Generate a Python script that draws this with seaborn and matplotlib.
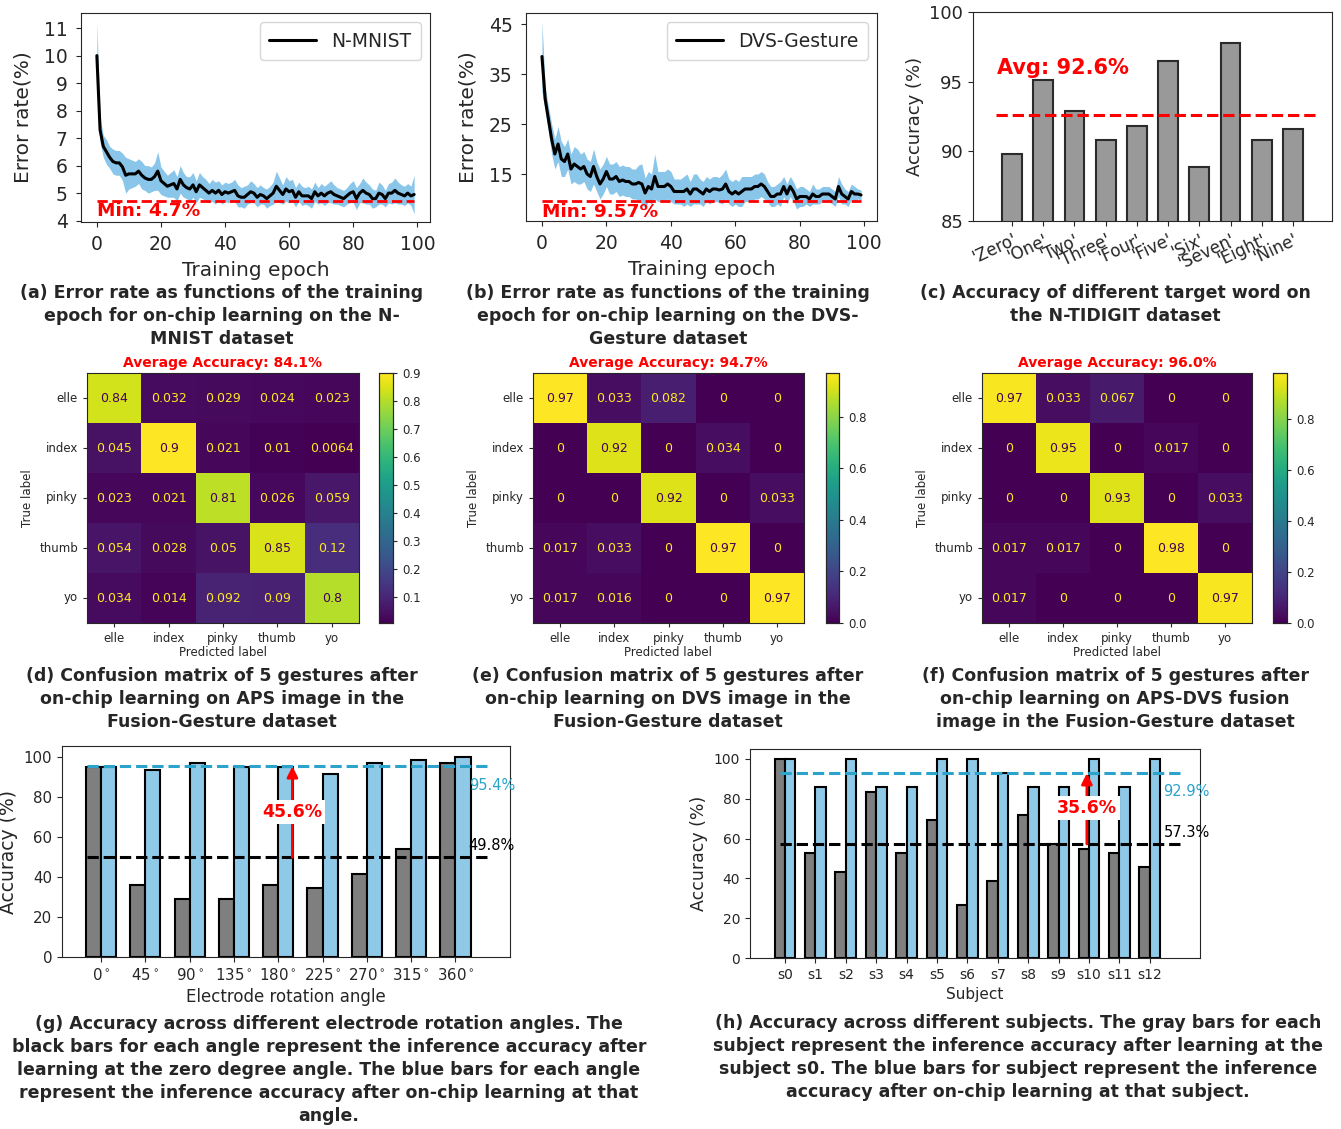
import numpy as np
import pandas as pd
import seaborn as sns
import matplotlib.pyplot as plt

# ---- data -------------------------------------------------------------
epochs = list(range(100))

nmnist_err = [10.0, 7.3, 6.7, 6.5, 6.3, 6.15, 6.1, 6.1, 5.95, 5.65,
              5.7, 5.7, 5.7, 5.8, 5.65, 5.55, 5.5, 5.5, 5.6, 5.8,
              5.45, 5.35, 5.25, 5.3, 5.35, 5.15, 5.5, 5.3, 5.2, 5.15,
              5.3, 5.05, 5.3, 5.2, 5.1, 5.0, 5.1, 5.0, 5.1, 4.95,
              5.05, 5.0, 5.05, 5.1, 4.9, 4.85, 4.85, 4.95, 5.05, 5.0,
              4.85, 4.95, 4.9, 4.8, 4.9, 5.0, 5.25, 5.1, 4.95, 5.15,
              5.05, 5.1, 4.85, 5.05, 4.9, 4.9, 4.9, 4.8, 5.05, 4.9,
              5.0, 4.9, 5.0, 5.05, 4.95, 4.9, 4.85, 4.8, 4.9, 5.0,
              5.05, 4.8, 5.0, 5.1, 5.0, 4.95, 4.8, 4.8, 5.0, 4.95,
              4.8, 5.0, 5.0, 5.1, 5.0, 4.95, 4.9, 5.0, 4.9, 4.95]
nmnist_spread = [1.2, 0.45, 0.4, 0.45, 0.4, 0.45, 0.45, 0.45, 0.5, 0.65,
                 0.55, 0.5, 0.45, 0.45, 0.5, 0.45, 0.5, 0.45, 0.5, 0.7,
                 0.5, 0.45, 0.4, 0.45, 0.5, 0.45, 0.5, 0.45, 0.4, 0.45,
                 0.45, 0.4, 0.45, 0.4, 0.4, 0.35, 0.4, 0.4, 0.35, 0.35,
                 0.35, 0.35, 0.35, 0.4, 0.4, 0.35, 0.4, 0.35, 0.4, 0.35,
                 0.35, 0.35, 0.3, 0.35, 0.35, 0.4, 0.55, 0.45, 0.35, 0.45,
                 0.4, 0.4, 0.35, 0.35, 0.35, 0.3, 0.35, 0.35, 0.35, 0.3,
                 0.35, 0.35, 0.35, 0.4, 0.35, 0.3, 0.3, 0.3, 0.3, 0.35,
                 0.4, 0.4, 0.35, 0.45, 0.4, 0.35, 0.35, 0.3, 0.4, 0.35,
                 0.3, 0.35, 0.4, 0.45, 0.4, 0.35, 0.35, 0.35, 0.35, 0.7]

dvs_err = [38.5, 30.0, 26.0, 22.0, 19.0, 21.0, 18.0, 17.5, 19.0, 16.0,
           17.0, 16.5, 16.0, 16.5, 15.0, 14.5, 16.5, 14.5, 13.0, 14.0,
           15.5, 14.0, 14.0, 14.5, 13.5, 13.8, 13.5, 13.5, 13.0, 13.0,
           13.3, 13.0, 11.2, 12.5, 12.0, 14.5, 12.5, 12.5, 12.5, 13.0,
           12.5, 11.5, 11.5, 11.5, 11.5, 12.0, 11.0, 12.0, 12.0, 11.5,
           11.0, 12.0, 11.5, 12.0, 12.0, 11.8, 12.0, 13.0, 11.5, 11.0,
           11.5, 11.0, 11.5, 12.0, 12.0, 12.0, 12.5, 12.5, 13.0, 12.5,
           11.5, 10.5, 10.5, 11.0, 11.0, 12.5, 11.0, 12.5, 11.5, 10.0,
           10.5, 10.5, 10.5, 10.0, 11.0, 10.5, 10.5, 11.0, 11.0, 11.0,
           10.5, 10.0, 12.5, 11.0, 10.5, 10.0, 11.5, 11.0, 11.0, 10.8]
dvs_spread = [7.0, 2.5, 2.5, 3.0, 3.0, 3.5, 3.5, 3.0, 3.0, 3.0,
              3.5, 3.5, 3.0, 3.0, 3.0, 3.0, 3.5, 3.0, 3.0, 3.0,
              3.0, 3.0, 3.0, 3.0, 3.0, 3.0, 3.0, 3.0, 3.0, 3.0,
              3.5, 4.0, 3.0, 3.0, 3.0, 4.5, 3.0, 3.0, 3.0, 3.0,
              3.0, 2.5, 2.5, 2.5, 3.0, 3.0, 2.5, 3.0, 3.0, 2.5,
              2.5, 2.5, 2.5, 2.5, 2.5, 2.5, 3.0, 3.0, 2.5, 2.5,
              2.5, 2.5, 3.0, 2.5, 2.5, 2.5, 2.5, 2.5, 2.5, 2.5,
              2.0, 2.0, 2.0, 2.0, 2.5, 2.0, 2.0, 2.0, 2.0, 2.0,
              2.0, 2.0, 1.5, 1.5, 2.0, 1.5, 1.5, 1.5, 1.5, 1.5,
              1.5, 1.5, 2.0, 2.0, 1.5, 1.5, 1.5, 1.5, 1.0, 1.0]

words = ["'Zero'", "'One'", "'Two'", "'Three'", "'Four'",
         "'Five'", "'Six'", "'Seven'", "'Eight'", "'Nine'"]
word_acc = [89.8, 95.1, 92.9, 90.8, 91.8, 96.5, 88.9, 97.8, 90.8, 91.6]

gestures = ["elle", "index", "pinky", "thumb", "yo"]
cm_aps = [[0.84, 0.032, 0.029, 0.024, 0.023],
          [0.045, 0.9, 0.021, 0.01, 0.0064],
          [0.023, 0.021, 0.81, 0.026, 0.059],
          [0.054, 0.028, 0.05, 0.85, 0.12],
          [0.034, 0.014, 0.092, 0.09, 0.8]]
cm_dvs = [[0.97, 0.033, 0.082, 0, 0],
          [0, 0.92, 0, 0.034, 0],
          [0, 0, 0.92, 0, 0.033],
          [0.017, 0.033, 0, 0.97, 0],
          [0.017, 0.016, 0, 0, 0.97]]
cm_fus = [[0.97, 0.033, 0.067, 0, 0],
          [0, 0.95, 0, 0.017, 0],
          [0, 0, 0.93, 0, 0.033],
          [0.017, 0.017, 0, 0.98, 0],
          [0.017, 0, 0, 0, 0.97]]

angles = [r"0$^\circ$", r"45$^\circ$", r"90$^\circ$", r"135$^\circ$", r"180$^\circ$",
          r"225$^\circ$", r"270$^\circ$", r"315$^\circ$", r"360$^\circ$"]
angle_base = [95, 36, 29, 29, 36, 34.5, 41.5, 54, 97]
angle_learn = [95, 93.5, 97, 95, 95, 91.5, 97, 98.5, 100]

subjects = ["s%d" % i for i in range(13)]
subj_base = [100, 53, 43, 83.5, 53, 69.5, 26.5, 38.5, 72, 57.5, 55, 53, 45.5]
subj_learn = [100, 86, 100, 86, 86, 100, 100, 93, 86, 86, 100, 86, 100]

# ---- figure -------------------------------------------------------------
sns.set_style("ticks")
plt.rcParams['font.family'] = ['DejaVu Sans']

W, H = 1341, 1129
fig = plt.figure(figsize=(W / 100, H / 100), dpi=100)


def box(l, t, r, b):
    return [l / W, 1 - b / H, (r - l) / W, (b - t) / H]


def caption(x, y, s):
    fig.text(x / W, 1 - y / H, s, ha="center", va="top", fontsize=12.5,
             fontweight="bold", linespacing=1.35, multialignment="center")


BAND = "#8ac6ea"


def curve_panel(ax, err, spread, name, minval, ylim, yticks, min_y):
    err = np.array(err)
    spread = np.array(spread)
    ax.fill_between(epochs, err - spread, err + spread, color=BAND, lw=0)
    sns.lineplot(x=epochs, y=err, color="black", lw=2.2, ax=ax, label=name)
    ax.hlines(minval, 0, 99, colors="red", linestyles="--", lw=2)
    ax.text(0, min_y, "Min: %s%%" % minval, color="red", fontsize=13.3,
            fontweight="bold", va="center", ha="left")
    ax.set_ylim(*ylim)
    ax.set_yticks(yticks)
    ax.set_xticks([0, 20, 40, 60, 80, 100])
    ax.tick_params(labelsize=13.5, pad=6)
    ax.set_xlabel("Training epoch", fontsize=14.5, labelpad=5)
    ax.set_ylabel("Error rate(%)", fontsize=14.5, labelpad=8)
    ax.legend(loc="upper right", fontsize=13.5, handlelength=2.5,
              borderpad=0.5, fancybox=True)


ax_a = fig.add_axes(box(81, 13, 430, 222))
curve_panel(ax_a, nmnist_err, nmnist_spread, "N-MNIST", 4.7,
            (3.95, 11.55), range(4, 12), 4.35)
ax_b = fig.add_axes(box(526, 13, 877, 221))
curve_panel(ax_b, dvs_err, dvs_spread, "DVS-Gesture", 9.57,
            (5.6, 47.2), [15, 25, 35, 45], 7.4)

# panel c
ax_c = fig.add_axes(box(973, 12, 1332, 221))
sns.barplot(x=words, y=word_acc, color="#999999", width=0.63,
            edgecolor="#2b2b2b", linewidth=1.5, saturation=1, ax=ax_c)
ax_c.hlines(92.6, -0.5, 9.7, colors="red", linestyles="--", lw=2.2)
ax_c.text(-0.48, 96.0, "Avg: 92.6%", color="red", fontsize=15,
          fontweight="bold", va="center", ha="left")
ax_c.set_ylim(85, 100)
ax_c.set_xlim(-1.25, 10.25)
ax_c.set_yticks([85, 90, 95, 100])
ax_c.set_ylabel("Accuracy (%)", fontsize=13)
ax_c.tick_params(axis="y", labelsize=13)
ax_c.tick_params(axis="x", labelsize=12)
for lab in ax_c.get_xticklabels():
    lab.set_rotation(25)
    lab.set_ha("right")
    lab.set_rotation_mode("anchor")

# confusion matrices
cmap = plt.get_cmap("viridis")


def cm_panel(axbox, cbbox, cm, title, cbticks):
    ax = fig.add_axes(box(*axbox))
    cax = fig.add_axes(box(*cbbox))
    arr = np.array(cm, dtype=float)
    sns.heatmap(arr, cmap="viridis", annot=True, fmt=".2g", ax=ax, cbar_ax=cax,
                xticklabels=gestures, yticklabels=gestures,
                annot_kws={"fontsize": 9}, vmin=arr.min(), vmax=arr.max())
    thresh = (arr.max() + arr.min()) / 2
    for t, v in zip(ax.texts, arr.flatten()):
        t.set_color(cmap(0.0) if v >= thresh else cmap(1.0))
    for s in ax.spines.values():
        s.set_visible(True)
        s.set_linewidth(0.8)
    ax.tick_params(labelsize=8.5, length=3)
    ax.set_yticklabels(gestures, rotation=0)
    ax.set_xlabel("Predicted label", fontsize=8.5, labelpad=1)
    ax.set_ylabel("True label", fontsize=8.5)
    ax.set_title(title, color="red", fontweight="bold", fontsize=10, pad=4)
    cax.set_yticks(cbticks)
    cax.tick_params(labelsize=8.5, length=3)
    for s in cax.spines.values():
        s.set_visible(True)
        s.set_linewidth(0.8)


cm_panel((87, 373, 359, 623), (379, 373, 393, 623), cm_aps,
         "Average Accuracy: 84.1%", [0.1, 0.2, 0.3, 0.4, 0.5, 0.6, 0.7, 0.8, 0.9])
cm_panel((533, 373, 804, 623), (826, 373, 839, 623), cm_dvs,
         "Average Accuracy: 94.7%", [0.0, 0.2, 0.4, 0.6, 0.8])
cm_panel((982, 373, 1252, 623), (1273, 373, 1287, 623), cm_fus,
         "Average Accuracy: 96.0%", [0.0, 0.2, 0.4, 0.6, 0.8])

# bar comparison panels
GRAY = "#7f7f7f"
LIGHT = "#8fc9e8"
LINE_BLUE = "#2ba3cb"


def pair_panel(ax, cats, base, learn, avg_b, avg_l, arrow_x, lbl_x,
               lbl_yl, lbl_yb, gain, gain_y, hl, xlim, ylim, tick_fs,
               xlabel, xlabel_fs, ylabel_fs):
    df = pd.DataFrame({"cat": cats * 2, "acc": base + learn,
                       "kind": ["base"] * len(cats) + ["learn"] * len(cats)})
    sns.barplot(data=df, x="cat", y="acc", hue="kind",
                palette={"base": GRAY, "learn": LIGHT}, width=0.68,
                edgecolor="black", linewidth=1.5, saturation=1, legend=False, ax=ax)
    ax.hlines(avg_l, hl[0], hl[1], colors=LINE_BLUE, linestyles="--", lw=2.2)
    ax.hlines(avg_b, hl[0], hl[1], colors="black", linestyles="--", lw=2.2)
    ax.text(lbl_x, lbl_yl, "%.1f%%" % avg_l, color=LINE_BLUE, fontsize=10.5,
            ha="left", va="center")
    ax.text(lbl_x, lbl_yb, "%.1f%%" % avg_b, color="black", fontsize=10.5,
            ha="left", va="center")
    ax.annotate("", xy=(arrow_x, avg_l), xytext=(arrow_x, avg_b),
                arrowprops=dict(arrowstyle="-|>", color="red", lw=2,
                                mutation_scale=16, shrinkA=0, shrinkB=0))
    ax.text(arrow_x, gain_y, gain, color="red", fontsize=12.5, fontweight="bold",
            ha="center", va="center",
            bbox=dict(facecolor="white", edgecolor="none", pad=2))
    ax.set_xlim(*xlim)
    ax.set_ylim(*ylim)
    ax.set_yticks([0, 20, 40, 60, 80, 100])
    ax.tick_params(labelsize=tick_fs)
    ax.set_xlabel(xlabel, fontsize=xlabel_fs)
    ax.set_ylabel("Accuracy (%)", fontsize=ylabel_fs)


ax_g = fig.add_axes(box(62, 746, 510, 957))
pair_panel(ax_g, angles, angle_base, angle_learn, 49.8, 95.4, 4.32, 8.3,
           86, 55.5, "45.6%", 72.5, (-0.32, 8.74), (-0.88, 9.23), (0, 105.5),
           10.8, "Electrode rotation angle", 12, 13.5)

ax_h = fig.add_axes(box(750, 749, 1200, 958))
pair_panel(ax_h, subjects, subj_base, subj_learn, 57.3, 92.9, 9.93, 12.45,
           83.4, 62.8, "35.6%", 75.4, (-0.16, 13.1), (-1.15, 13.65), (0, 105),
           10, "Subject", 11, 12.5)

# captions
caption(222, 284, "(a) Error rate as functions of the training\n"
                  "epoch for on-chip learning on the N-\nMNIST dataset")
caption(668, 284, "(b) Error rate as functions of the training\n"
                  "epoch for on-chip learning on the DVS-\nGesture dataset")
caption(1115, 284, "(c) Accuracy of different target word on\nthe N-TIDIGIT dataset")
caption(222, 667, "(d) Confusion matrix of 5 gestures after\n"
                  "on-chip learning on APS image in the\nFusion-Gesture dataset")
caption(668, 667, "(e) Confusion matrix of 5 gestures after\n"
                  "on-chip learning on DVS image in the\nFusion-Gesture dataset")
caption(1115, 667, "(f) Confusion matrix of 5 gestures after\n"
                   "on-chip learning on APS-DVS fusion\nimage in the Fusion-Gesture dataset")
caption(329, 1015, "(g) Accuracy across different electrode rotation angles. The\n"
                   "black bars for each angle represent the inference accuracy after\n"
                   "learning at the zero degree angle. The blue bars for each angle\n"
                   "represent the inference accuracy after on-chip learning at that\nangle.")
caption(1018, 1014, "(h) Accuracy across different subjects. The gray bars for each\n"
                    "subject represent the inference accuracy after learning at the\n"
                    "subject s0. The blue bars for subject represent the inference\n"
                    "accuracy after on-chip learning at that subject.")

fig.savefig("out.png", dpi=100)
